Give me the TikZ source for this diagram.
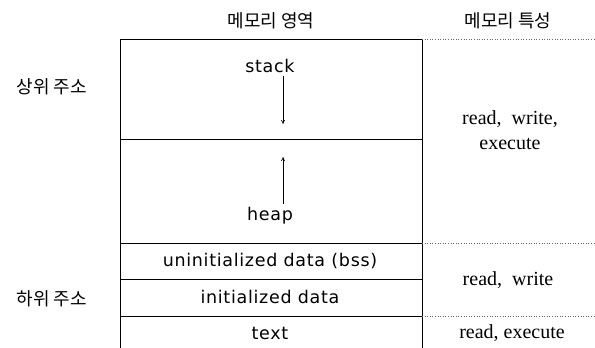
\documentclass[tikz,border=0pt]{standalone}
\usepackage{fontspec}
\usepackage{tikz}
\usetikzlibrary{arrows.meta}
\newfontfamily\kofont{Noto Sans CJK KR}
\newfontfamily\boxfont[LetterSpace=4]{DejaVu Sans}
\newfontfamily\propfont{Liberation Serif}

\begin{document}
\begin{tikzpicture}[x=1pt, y=-1pt,
		region/.style={font=\boxfont\fontsize{17.5}{20}\selectfont},
		attr/.style={font=\propfont\fontsize{20}{25}\selectfont, align=center},
		kor/.style={font=\kofont\fontsize{18}{20}\selectfont},
		sep/.style={line width=0.8pt},
		guide/.style={dotted, line width=0.6pt, black!60},
		growarrow/.style={-{To[length=4pt, width=4pt]}, line width=0.6pt}]
		\useasboundingbox (0,0) rectangle (595,348);
		
		% Memory box
		\draw[sep] (120,348) -- (120,39) -- (422,39) -- (422,348);
		\foreach \y in {139, 243, 279, 316}
			\draw[sep] (120,\y) -- (422,\y);
		
		% Dotted guides
		\foreach \y in {39, 243, 316}
			\draw[guide] (422,\y) -- (595,\y);
		
		% Headers
		\node[kor] (area) at (271,21) {메모리 영역};
		\node[kor] (prop) at (508,21) {메모리 특성};
		\node[kor] (high) at (52,87) {상위 주소};
		\node[kor] (low) at (52,299) {하위 주소};
		
		% Regions
		\node[region] (stack) at (270,66) {stack};
		\node[region] (heap) at (270,216) {heap};
		\node[region] (bss) at (270,261) {uninitialized data (bss)};
		\node[region] (data) at (270,297) {initialized data};
		\node[region] (text) at (270,333) {text};
		
		% Properties
		\node[attr] (rwx) at (510,130) {read,~ write,\\execute};
		\node[attr] (rw) at (508,280) {read,~ write};
		\node[attr] (rx) at (512,333) {read, execute};
		
		% Growth arrows
		\coordinate (stacktip) at (283,124);
		\coordinate (heaptip) at (283,157);
		\draw[growarrow] (stack.south -| stacktip) -- (stacktip);
		\draw[growarrow] (heap.north -| heaptip) -- (heaptip);
	\end{tikzpicture}
\end{document}
